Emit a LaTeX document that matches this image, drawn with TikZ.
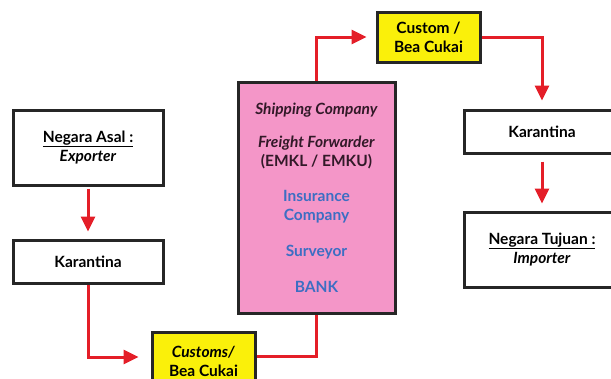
\documentclass[tikz,border=0pt]{standalone}
\usepackage{fontspec}
\setmainfont{Lato}
\usetikzlibrary{arrows.meta}
\definecolor{flow red}{RGB}{228,30,40}
\definecolor{customs fill}{RGB}{250,240,10}
\definecolor{agent fill}{RGB}{244,150,200}
\definecolor{agent text}{RGB}{50,25,40}
\definecolor{agent blue}{RGB}{60,110,195}

\begin{document}
\begin{tikzpicture}[
	x=1pt, y=-1pt,
	font=\bfseries\fontsize{15.5}{19}\selectfont,
	box/.style={draw=black!85, line width=3pt, fill=white, align=center, inner sep=0pt},
	cukai/.style={box, fill=customs fill},
	agent/.style={align=center, text=agent text},
	flow/.style={draw=flow red, line width=3pt},
	flowarrow/.style={flow, -{Triangle[length=15pt, width=14pt]}}]

\useasboundingbox (0,0) rectangle (611,378);
\clip (0,0) rectangle (611,378);

% Origin side
\node (asal) at (88,147.5) [box, minimum width=150pt, minimum height=75pt]
    {\underline{Negara Asal :}\\\textit{Exporter}};
\node (karL) at (88,261.5) [box, minimum width=150pt, minimum height=43pt] {Karantina};

% Customs at origin
\node (customs) at (203.5,361) [cukai, minimum width=103pt, minimum height=58pt]
    {\textit{Customs/}\\Bea Cukai};

% Agents
\node (agents) at (316.5,197.5) [box, fill=agent fill, minimum width=157pt, minimum height=231pt] {};
\node (ship) at (316.5,110) [agent] {\textit{Shipping Company}};
\node (forwarder) at (316.5,152.5) [agent] {\textit{Freight Forwarder}\\(EMKL / EMKU)};
\node (insurance) at (316.5,207) [agent, text=agent blue] {Insurance\\Company};
\node (surveyor) at (316.5,252) [agent, text=agent blue] {Surveyor};
\node (bank) at (316.5,287) [agent, text=agent blue] {BANK};

% Customs at destination
\node (custom) at (428.5,37) [cukai, minimum width=103pt, minimum height=50pt]
    {Custom /\\Bea Cukai};

% Destination side
\node (karR) at (542,131.5) [box, minimum width=156pt, minimum height=43pt] {Karantina};
\node (tujuan) at (542,249.5) [box, minimum width=156pt, minimum height=75pt]
    {\underline{Negara Tujuan :}\\\textit{Importer}};

% Flow
\draw [flowarrow, shorten <=2pt, shorten >=7pt] (asal) -- (karL);
\draw [flowarrow, shorten >=12pt] (karL.south) |- ([yshift=4pt]customs.west);
\draw [flow] ([yshift=5pt]customs.east) -| (agents.south);
\draw [flowarrow, shorten >=9pt] (agents.north) |- (custom.west);
\draw [flowarrow, shorten >=8pt] (custom.east) -| (karR.north);
\draw [flowarrow, shorten <=7pt, shorten >=7pt] (karR) -- (tujuan);

\end{tikzpicture}
\end{document}
